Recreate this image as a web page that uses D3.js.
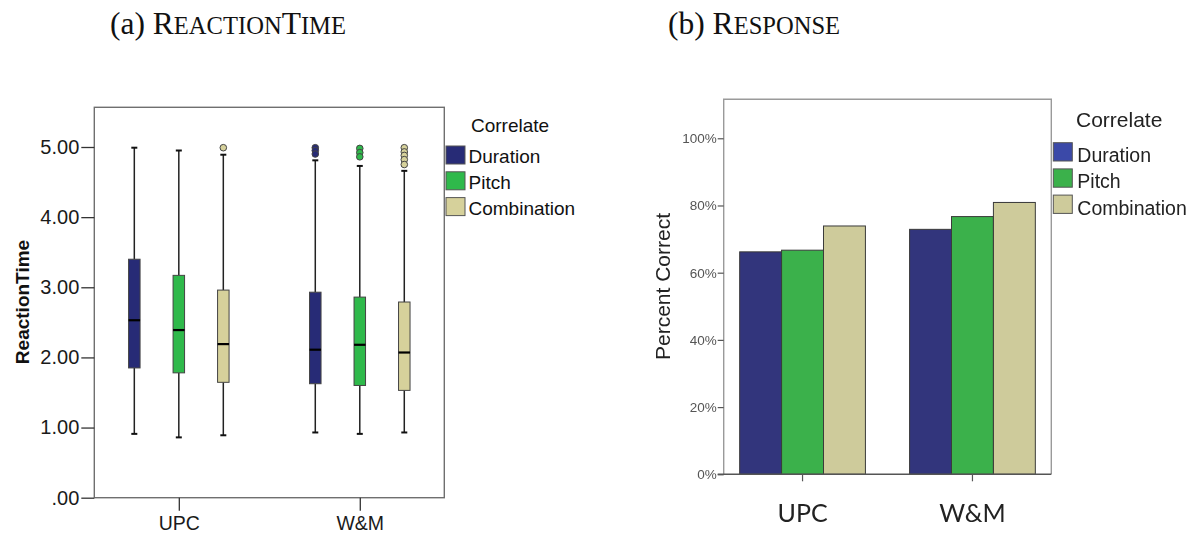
<!DOCTYPE html>
<html><head><meta charset="utf-8">
<script src="https://cdn.jsdelivr.net/npm/d3@7"></script>
<style>
html,body{margin:0;padding:0;background:#fff;}
svg{display:block;}
</style></head><body>
<svg id="fig" width="1196" height="535"></svg>
<script>
const groups = ["UPC", "W&M"];
const correlates = ["Duration", "Pitch", "Combination"];

// Reaction time box plots: one row per group, one entry per correlate
const rtWhiskerLow  = [[0.91, 0.86, 0.89], [0.93, 0.91, 0.93]];
const rtQ1          = [[1.85, 1.78, 1.645], [1.625, 1.60, 1.53]];
const rtMedian      = [[2.53, 2.39, 2.19], [2.11, 2.18, 2.07]];
const rtQ3          = [[3.40, 3.17, 2.96], [2.93, 2.86, 2.79]];
const rtWhiskerHigh = [[4.99, 4.95, 4.89], [4.81, 4.73, 4.66]];
const rtOutliers    = [
  [[], [], [4.99]],
  [[4.99, 4.95, 4.90], [4.98, 4.92, 4.86], [4.99, 4.93, 4.88, 4.82, 4.75]]
];
const rtTicks = [0, 1, 2, 3, 4, 5];

// Percent correct per group and correlate
const pctCorrect = [[66.2, 66.7, 73.9], [72.9, 76.7, 80.9]];
const pctTicks = [0, 20, 40, 60, 80, 100];

const rtColors  = ["#272b76", "#2fb94b", "#d6d19b"];
const pctColors = ["#33357b", "#3bb14c", "#cecb9b"];
const pctSwatch = ["#3a4aa8", "#3bb14c", "#cecb9b"];

const SANS = "'Liberation Sans', Arial, sans-serif";
const SERIF = "'Liberation Serif', 'Times New Roman', serif";
const svg = d3.select("#fig");

// ---- panel titles in small caps ----
function smallCapsTitle(x, y, parts, size) {
  const t = svg.append("text").attr("x", x).attr("y", y)
    .attr("font-family", SERIF).attr("fill", "#111");
  parts.forEach(([s, big]) => {
    t.append("tspan").attr("font-size", big ? size : size * 0.78).text(s);
  });
}
smallCapsTitle(110, 34, [["(a) ", 1], ["R", 1], ["EACTION", 0], ["T", 1], ["IME", 0]], 31.5);
smallCapsTitle(668, 34, [["(b) ", 1], ["R", 1], ["ESPONSE", 0]], 31.5);

// ================= (a) Reaction time box plot =================
const L = {left: 94.3, right: 444.3, top: 107.3, bottom: 497.7};
const yRT = d3.scaleLinear().domain([0, 5.566]).range([L.bottom, L.top]);
const xRT = d3.scalePoint().domain(groups).range([L.left, L.right]).padding(0.467);
const subRT = d3.scalePoint().domain(correlates).range([-44.5, 44.5]);
const gA = svg.append("g");

gA.append("rect")
  .attr("x", L.left).attr("y", L.top)
  .attr("width", L.right - L.left).attr("height", L.bottom - L.top)
  .attr("fill", "none").attr("stroke", "#6f6f6f").attr("stroke-width", 1.4);

const yAxA = gA.append("g").attr("transform", `translate(${L.left},0)`)
  .call(d3.axisLeft(yRT).tickValues(rtTicks).tickSize(13).tickPadding(2)
    .tickFormat(v => v === 0 ? ".00" : v.toFixed(2)));
yAxA.select(".domain").remove();
yAxA.selectAll(".tick line").attr("stroke", "#333").attr("stroke-width", 1.3);
yAxA.selectAll(".tick text").attr("font-family", SANS).attr("font-size", 20).attr("fill", "#1a1a1a");

const xAxA = gA.append("g").attr("transform", `translate(0,${L.bottom})`)
  .call(d3.axisBottom(xRT).tickSize(13).tickPadding(0));
xAxA.select(".domain").remove();
xAxA.selectAll(".tick line").attr("stroke", "#333").attr("stroke-width", 1.3);
xAxA.selectAll(".tick text").attr("font-family", SANS).attr("font-size", 19.5)
  .attr("fill", "#1a1a1a").attr("y", 32).attr("dy", 0);

gA.append("text")
  .attr("transform", `translate(29,302) rotate(-90)`)
  .attr("text-anchor", "middle").attr("font-family", SANS)
  .attr("font-weight", "bold").attr("font-size", 19).attr("fill", "#111")
  .text("ReactionTime");

const boxW = 11.5, capW = 6;
groups.forEach((g, i) => {
  correlates.forEach((c, j) => {
    const cx = xRT(g) + subRT(c);
    const b = gA.append("g");
    // whiskers
    b.append("line").attr("x1", cx).attr("x2", cx)
      .attr("y1", yRT(rtWhiskerHigh[i][j])).attr("y2", yRT(rtQ3[i][j]))
      .attr("stroke", "#222").attr("stroke-width", 1.5);
    b.append("line").attr("x1", cx).attr("x2", cx)
      .attr("y1", yRT(rtQ1[i][j])).attr("y2", yRT(rtWhiskerLow[i][j]))
      .attr("stroke", "#222").attr("stroke-width", 1.5);
    [rtWhiskerHigh[i][j], rtWhiskerLow[i][j]].forEach(v => {
      b.append("line").attr("x1", cx - capW / 2).attr("x2", cx + capW / 2)
        .attr("y1", yRT(v)).attr("y2", yRT(v))
        .attr("stroke", "#111").attr("stroke-width", 2);
    });
    // box
    b.append("rect").attr("x", cx - boxW / 2).attr("y", yRT(rtQ3[i][j]))
      .attr("width", boxW).attr("height", yRT(rtQ1[i][j]) - yRT(rtQ3[i][j]))
      .attr("fill", rtColors[j]).attr("stroke", "#444").attr("stroke-width", 1);
    // median
    b.append("line").attr("x1", cx - boxW / 2).attr("x2", cx + boxW / 2)
      .attr("y1", yRT(rtMedian[i][j])).attr("y2", yRT(rtMedian[i][j]))
      .attr("stroke", "#000").attr("stroke-width", 2.2);
    // outliers
    rtOutliers[i][j].forEach(v => {
      b.append("circle").attr("cx", cx).attr("cy", yRT(v)).attr("r", 3.3)
        .attr("fill", rtColors[j]).attr("stroke", "#444").attr("stroke-width", 1);
    });
  });
});

// legend (a)
const legA = gA.append("g");
legA.append("text").attr("x", 471).attr("y", 132)
  .attr("font-family", SANS).attr("font-size", 19).attr("fill", "#111").text("Correlate");
correlates.forEach((c, j) => {
  const y0 = 146 + j * 25.8;
  legA.append("rect").attr("x", 446).attr("y", y0).attr("width", 19).attr("height", 18)
    .attr("fill", rtColors[j]).attr("stroke", "#555").attr("stroke-width", 1);
  legA.append("text").attr("x", 468.5).attr("y", y0 + 17)
    .attr("font-family", SANS).attr("font-size", 19).attr("fill", "#111").text(c);
});

// ================= (b) Percent correct bar chart =================
const defs = svg.append("defs");
defs.append("filter").attr("id", "soft")
  .append("feGaussianBlur").attr("stdDeviation", 0.55);

const R = {left: 723.7, right: 1051.3, top: 99.3, bottom: 474.3};
const yP = d3.scaleLinear().domain([0, 111.6]).range([R.bottom, R.top]);
const xP = d3.scaleBand().domain(groups).range([R.left, R.right])
  .paddingInner(0.26).paddingOuter(0.094);
const subP = d3.scaleBand().domain(correlates).range([0, xP.bandwidth()]);
const gB = svg.append("g").attr("filter", "url(#soft)");

// frame: light sides, darker baseline
gB.append("path")
  .attr("d", `M${R.left},${R.bottom}V${R.top}H${R.right}V${R.bottom}`)
  .attr("fill", "none").attr("stroke", "#9a9a9a").attr("stroke-width", 1.4);

groups.forEach((g, i) => {
  correlates.forEach((c, j) => {
    gB.append("rect")
      .attr("x", xP(g) + subP(c)).attr("y", yP(pctCorrect[i][j]))
      .attr("width", subP.bandwidth()).attr("height", yP(0) - yP(pctCorrect[i][j]))
      .attr("fill", pctColors[j]).attr("stroke", "#3a3a3a").attr("stroke-width", 1);
  });
});

gB.append("line").attr("x1", R.left - 6).attr("x2", R.right)
  .attr("y1", R.bottom).attr("y2", R.bottom)
  .attr("stroke", "#555").attr("stroke-width", 1.4);

const yAxB = gB.append("g").attr("transform", `translate(${R.left},0)`)
  .call(d3.axisLeft(yP).tickValues(pctTicks).tickSize(6).tickPadding(1)
    .tickFormat(v => v + "%"));
yAxB.select(".domain").remove();
yAxB.selectAll(".tick line").attr("stroke", "#555").attr("stroke-width", 1.2);
yAxB.selectAll(".tick text").attr("font-family", SANS).attr("font-size", 13.5).attr("fill", "#555");

const xAxB = gB.append("g").attr("transform", `translate(0,${R.bottom})`)
  .call(d3.axisBottom(xP).tickSize(7).tickPadding(0));
xAxB.select(".domain").remove();
xAxB.selectAll(".tick line").attr("stroke", "#555").attr("stroke-width", 1.2);
xAxB.selectAll(".tick text").attr("font-family", "Lato, 'Open Sans', sans-serif")
  .attr("font-size", 25).attr("fill", "#222").attr("y", 47.4).attr("dy", 0);

gB.append("text")
  .attr("transform", `translate(670,286.5) rotate(-90)`)
  .attr("text-anchor", "middle").attr("font-family", SANS)
  .attr("font-size", 21).attr("fill", "#222").text("Percent Correct");

// legend (b)
const legB = gB.append("g");
legB.append("text").attr("x", 1076).attr("y", 127.3)
  .attr("font-family", SANS).attr("font-size", 21).attr("fill", "#222").text("Correlate");
correlates.forEach((c, j) => {
  const y0 = 142.7 + j * 26.2;
  legB.append("rect").attr("x", 1053.3).attr("y", y0).attr("width", 19).attr("height", 18.3)
    .attr("fill", pctSwatch[j]).attr("stroke", "#555").attr("stroke-width", 1);
  legB.append("text").attr("x", 1077.3).attr("y", y0 + 19.5)
    .attr("font-family", SANS).attr("font-size", 19.5).attr("fill", "#222").text(c);
});
</script>
</body></html>
